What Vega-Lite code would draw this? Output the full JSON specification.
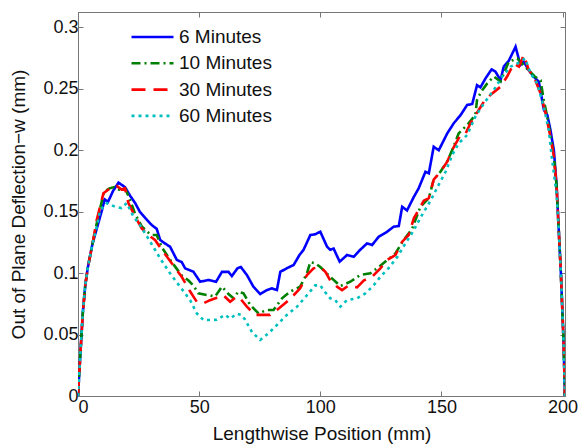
{
  "$schema": "https://vega.github.io/schema/vega-lite/v6.json",
  "width": 487,
  "height": 384,
  "autosize": "none",
  "padding": {"left": 78, "top": 12, "right": 15, "bottom": 50},
  "background": "white",
  "config": {
    "view": {"stroke": "#777777", "strokeWidth": 1},
    "font": "Liberation Sans",
    "axis": {"labelFont": "Liberation Sans", "titleFont": "Liberation Sans", "labelColor": "#111111", "titleColor": "#111111", "labelFontSize": 18, "titleFontSize": 19, "titleFontWeight": "normal", "grid": false, "domainColor": "#777777", "tickColor": "#777777", "tickSize": -5}
  },
  "datasets": {
    "curves": [
      {"series":"6 Minutes","x":0,"y":0},{"series":"6 Minutes","x":1,"y":0.035},{"series":"6 Minutes","x":2,"y":0.068},{"series":"6 Minutes","x":3,"y":0.09},{"series":"6 Minutes","x":4,"y":0.104},{"series":"6 Minutes","x":6,"y":0.124},{"series":"6 Minutes","x":8,"y":0.138},{"series":"6 Minutes","x":10,"y":0.152},{"series":"6 Minutes","x":11,"y":0.16},{"series":"6 Minutes","x":12.4,"y":0.158},{"series":"6 Minutes","x":14.5,"y":0.167},{"series":"6 Minutes","x":16.7,"y":0.1736},{"series":"6 Minutes","x":19.4,"y":0.17},{"series":"6 Minutes","x":21.5,"y":0.163},{"series":"6 Minutes","x":23.6,"y":0.157},{"series":"6 Minutes","x":25.5,"y":0.15},{"series":"6 Minutes","x":27.7,"y":0.145},{"series":"6 Minutes","x":30.5,"y":0.139},{"series":"6 Minutes","x":32.5,"y":0.136},{"series":"6 Minutes","x":33.9,"y":0.127},{"series":"6 Minutes","x":36,"y":0.124},{"series":"6 Minutes","x":38,"y":0.1215},{"series":"6 Minutes","x":40.8,"y":0.1107},{"series":"6 Minutes","x":42.8,"y":0.109},{"series":"6 Minutes","x":44.2,"y":0.1039},{"series":"6 Minutes","x":47.6,"y":0.1012},{"series":"6 Minutes","x":50.4,"y":0.093},{"series":"6 Minutes","x":53.8,"y":0.0944},{"series":"6 Minutes","x":57,"y":0.093},{"series":"6 Minutes","x":59.4,"y":0.101},{"series":"6 Minutes","x":62.1,"y":0.101},{"series":"6 Minutes","x":63.5,"y":0.0976},{"series":"6 Minutes","x":65.8,"y":0.1039},{"series":"6 Minutes","x":67.2,"y":0.105},{"series":"6 Minutes","x":69.7,"y":0.0985},{"series":"6 Minutes","x":72.4,"y":0.0889},{"series":"6 Minutes","x":75.2,"y":0.083},{"series":"6 Minutes","x":78,"y":0.0862},{"series":"6 Minutes","x":80,"y":0.0876},{"series":"6 Minutes","x":82.1,"y":0.0862},{"series":"6 Minutes","x":83.5,"y":0.101},{"series":"6 Minutes","x":86.2,"y":0.104},{"series":"6 Minutes","x":89,"y":0.1066},{"series":"6 Minutes","x":91.4,"y":0.1147},{"series":"6 Minutes","x":93.1,"y":0.119},{"series":"6 Minutes","x":95.9,"y":0.131},{"series":"6 Minutes","x":97.9,"y":0.1316},{"series":"6 Minutes","x":100,"y":0.1337},{"series":"6 Minutes","x":102.8,"y":0.1215},{"series":"6 Minutes","x":104.1,"y":0.119},{"series":"6 Minutes","x":105.5,"y":0.12},{"series":"6 Minutes","x":108,"y":0.1093},{"series":"6 Minutes","x":111,"y":0.1147},{"series":"6 Minutes","x":113.8,"y":0.1133},{"series":"6 Minutes","x":116.5,"y":0.119},{"series":"6 Minutes","x":119.3,"y":0.1242},{"series":"6 Minutes","x":121.4,"y":0.1229},{"series":"6 Minutes","x":124.1,"y":0.1296},{"series":"6 Minutes","x":127.6,"y":0.1337},{"series":"6 Minutes","x":130.3,"y":0.1378},{"series":"6 Minutes","x":132.4,"y":0.1383},{"series":"6 Minutes","x":133.8,"y":0.154},{"series":"6 Minutes","x":135.8,"y":0.151},{"series":"6 Minutes","x":138.6,"y":0.162},{"series":"6 Minutes","x":140.6,"y":0.169},{"series":"6 Minutes","x":143.4,"y":0.1825},{"series":"6 Minutes","x":144.8,"y":0.1812},{"series":"6 Minutes","x":146.8,"y":0.2028},{"series":"6 Minutes","x":148.9,"y":0.2},{"series":"6 Minutes","x":152.4,"y":0.2137},{"series":"6 Minutes","x":155.1,"y":0.222},{"series":"6 Minutes","x":157.9,"y":0.2286},{"series":"6 Minutes","x":160.6,"y":0.2368},{"series":"6 Minutes","x":162.7,"y":0.2376},{"series":"6 Minutes","x":164.7,"y":0.253},{"series":"6 Minutes","x":166.1,"y":0.2512},{"series":"6 Minutes","x":168.2,"y":0.2585},{"series":"6 Minutes","x":170.7,"y":0.2658},{"series":"6 Minutes","x":172.3,"y":0.2639},{"series":"6 Minutes","x":174.4,"y":0.2571},{"series":"6 Minutes","x":175.7,"y":0.268},{"series":"6 Minutes","x":177.8,"y":0.2728},{"series":"6 Minutes","x":180.6,"y":0.2842},{"series":"6 Minutes","x":182.6,"y":0.2693},{"series":"6 Minutes","x":184,"y":0.272},{"series":"6 Minutes","x":186.1,"y":0.265},{"series":"6 Minutes","x":188.1,"y":0.2598},{"series":"6 Minutes","x":190.2,"y":0.2557},{"series":"6 Minutes","x":192.3,"y":0.2327},{"series":"6 Minutes","x":193.7,"y":0.2286},{"series":"6 Minutes","x":195,"y":0.2164},{"series":"6 Minutes","x":196.4,"y":0.2},{"series":"6 Minutes","x":197.5,"y":0.172},{"series":"6 Minutes","x":198.5,"y":0.132},{"series":"6 Minutes","x":199.3,"y":0.1},{"series":"6 Minutes","x":200.3,"y":0.05},{"series":"6 Minutes","x":201,"y":0},

      {"series":"10 Minutes","x":0,"y":0},{"series":"10 Minutes","x":1,"y":0.035},{"series":"10 Minutes","x":2,"y":0.068},{"series":"10 Minutes","x":3,"y":0.09},{"series":"10 Minutes","x":4,"y":0.104},{"series":"10 Minutes","x":6,"y":0.124},{"series":"10 Minutes","x":8,"y":0.143},{"series":"10 Minutes","x":10.7,"y":0.166},{"series":"10 Minutes","x":13,"y":0.169},{"series":"10 Minutes","x":15,"y":0.17},{"series":"10 Minutes","x":17,"y":0.168},{"series":"10 Minutes","x":19.4,"y":0.169},{"series":"10 Minutes","x":21,"y":0.162},{"series":"10 Minutes","x":23.6,"y":0.148},{"series":"10 Minutes","x":26.3,"y":0.138},{"series":"10 Minutes","x":29,"y":0.133},{"series":"10 Minutes","x":30.5,"y":0.131},{"series":"10 Minutes","x":32.5,"y":0.131},{"series":"10 Minutes","x":34.6,"y":0.121},{"series":"10 Minutes","x":38.7,"y":0.109},{"series":"10 Minutes","x":42.8,"y":0.098},{"series":"10 Minutes","x":45.6,"y":0.094},{"series":"10 Minutes","x":47.6,"y":0.09},{"series":"10 Minutes","x":49.7,"y":0.0835},{"series":"10 Minutes","x":53.8,"y":0.082},{"series":"10 Minutes","x":56.6,"y":0.081},{"series":"10 Minutes","x":59.4,"y":0.089},{"series":"10 Minutes","x":62.1,"y":0.083},{"series":"10 Minutes","x":64.2,"y":0.0795},{"series":"10 Minutes","x":66.2,"y":0.085},{"series":"10 Minutes","x":68.3,"y":0.0835},{"series":"10 Minutes","x":71.1,"y":0.074},{"series":"10 Minutes","x":74.5,"y":0.0673},{"series":"10 Minutes","x":78,"y":0.07},{"series":"10 Minutes","x":80.7,"y":0.07},{"series":"10 Minutes","x":84.2,"y":0.0795},{"series":"10 Minutes","x":87.6,"y":0.085},{"series":"10 Minutes","x":91.7,"y":0.089},{"series":"10 Minutes","x":94.5,"y":0.0998},{"series":"10 Minutes","x":95.9,"y":0.109},{"series":"10 Minutes","x":97.9,"y":0.108},{"series":"10 Minutes","x":100,"y":0.105},{"series":"10 Minutes","x":104.1,"y":0.097},{"series":"10 Minutes","x":108.3,"y":0.0895},{"series":"10 Minutes","x":112.4,"y":0.093},{"series":"10 Minutes","x":116.5,"y":0.0985},{"series":"10 Minutes","x":120.7,"y":0.0998},{"series":"10 Minutes","x":124.1,"y":0.105},{"series":"10 Minutes","x":127.6,"y":0.1107},{"series":"10 Minutes","x":131,"y":0.116},{"series":"10 Minutes","x":134.4,"y":0.127},{"series":"10 Minutes","x":137.9,"y":0.136},{"series":"10 Minutes","x":141.3,"y":0.154},{"series":"10 Minutes","x":144.8,"y":0.161},{"series":"10 Minutes","x":146.8,"y":0.176},{"series":"10 Minutes","x":149.6,"y":0.1825},{"series":"10 Minutes","x":152.4,"y":0.191},{"series":"10 Minutes","x":154.4,"y":0.2},{"series":"10 Minutes","x":157.1,"y":0.2137},{"series":"10 Minutes","x":160.6,"y":0.2205},{"series":"10 Minutes","x":164,"y":0.2286},{"series":"10 Minutes","x":164.7,"y":0.241},{"series":"10 Minutes","x":166.5,"y":0.248},{"series":"10 Minutes","x":168.9,"y":0.2544},{"series":"10 Minutes","x":171.6,"y":0.26},{"series":"10 Minutes","x":174.4,"y":0.256},{"series":"10 Minutes","x":177.8,"y":0.272},{"series":"10 Minutes","x":181.3,"y":0.2747},{"series":"10 Minutes","x":183.3,"y":0.2706},{"series":"10 Minutes","x":186,"y":0.265},{"series":"10 Minutes","x":188.5,"y":0.26},{"series":"10 Minutes","x":190.9,"y":0.257},{"series":"10 Minutes","x":192.3,"y":0.24},{"series":"10 Minutes","x":193.7,"y":0.227},{"series":"10 Minutes","x":195,"y":0.212},{"series":"10 Minutes","x":196.4,"y":0.195},{"series":"10 Minutes","x":197.5,"y":0.172},{"series":"10 Minutes","x":198.5,"y":0.132},{"series":"10 Minutes","x":199.3,"y":0.1},{"series":"10 Minutes","x":200.3,"y":0.05},{"series":"10 Minutes","x":201,"y":0},

      {"series":"30 Minutes","x":0,"y":0},{"series":"30 Minutes","x":1,"y":0.035},{"series":"30 Minutes","x":2,"y":0.068},{"series":"30 Minutes","x":3,"y":0.09},{"series":"30 Minutes","x":4,"y":0.104},{"series":"30 Minutes","x":6,"y":0.124},{"series":"30 Minutes","x":7.7,"y":0.143},{"series":"30 Minutes","x":10.5,"y":0.165},{"series":"30 Minutes","x":13.9,"y":0.17},{"series":"30 Minutes","x":16,"y":0.171},{"series":"30 Minutes","x":18,"y":0.168},{"series":"30 Minutes","x":19.4,"y":0.169},{"series":"30 Minutes","x":20.8,"y":0.157},{"series":"30 Minutes","x":22.9,"y":0.1487},{"series":"30 Minutes","x":26.3,"y":0.1364},{"series":"30 Minutes","x":29,"y":0.131},{"series":"30 Minutes","x":31.8,"y":0.127},{"series":"30 Minutes","x":34.6,"y":0.119},{"series":"30 Minutes","x":38.7,"y":0.108},{"series":"30 Minutes","x":42.8,"y":0.097},{"series":"30 Minutes","x":46.3,"y":0.085},{"series":"30 Minutes","x":49,"y":0.0767},{"series":"30 Minutes","x":51.8,"y":0.0754},{"series":"30 Minutes","x":54.5,"y":0.078},{"series":"30 Minutes","x":57.3,"y":0.08},{"series":"30 Minutes","x":60,"y":0.082},{"series":"30 Minutes","x":62.8,"y":0.0767},{"series":"30 Minutes","x":65.6,"y":0.081},{"series":"30 Minutes","x":66.9,"y":0.0795},{"series":"30 Minutes","x":69.7,"y":0.0727},{"series":"30 Minutes","x":73.1,"y":0.066},{"series":"30 Minutes","x":75.9,"y":0.066},{"series":"30 Minutes","x":79.3,"y":0.066},{"series":"30 Minutes","x":82.1,"y":0.07},{"series":"30 Minutes","x":86.2,"y":0.0767},{"series":"30 Minutes","x":89,"y":0.082},{"series":"30 Minutes","x":91.7,"y":0.0876},{"series":"30 Minutes","x":94.5,"y":0.0985},{"series":"30 Minutes","x":97.2,"y":0.1039},{"series":"30 Minutes","x":100,"y":0.105},{"series":"30 Minutes","x":102.1,"y":0.101},{"series":"30 Minutes","x":104.1,"y":0.094},{"series":"30 Minutes","x":106.9,"y":0.089},{"series":"30 Minutes","x":109,"y":0.0862},{"series":"30 Minutes","x":111.7,"y":0.09},{"series":"30 Minutes","x":115.2,"y":0.0884},{"series":"30 Minutes","x":117.9,"y":0.094},{"series":"30 Minutes","x":121.4,"y":0.097},{"series":"30 Minutes","x":124.8,"y":0.1039},{"series":"30 Minutes","x":127.6,"y":0.1107},{"series":"30 Minutes","x":131,"y":0.1147},{"series":"30 Minutes","x":133.8,"y":0.1256},{"series":"30 Minutes","x":136.5,"y":0.131},{"series":"30 Minutes","x":138.6,"y":0.1446},{"series":"30 Minutes","x":142.7,"y":0.159},{"series":"30 Minutes","x":144.8,"y":0.161},{"series":"30 Minutes","x":146.8,"y":0.176},{"series":"30 Minutes","x":149.6,"y":0.1825},{"series":"30 Minutes","x":152.4,"y":0.1907},{"series":"30 Minutes","x":154.4,"y":0.2},{"series":"30 Minutes","x":157.9,"y":0.2124},{"series":"30 Minutes","x":160,"y":0.2137},{"series":"30 Minutes","x":162,"y":0.222},{"series":"30 Minutes","x":165.4,"y":0.2327},{"series":"30 Minutes","x":167.5,"y":0.2395},{"series":"30 Minutes","x":170.2,"y":0.245},{"series":"30 Minutes","x":174.4,"y":0.2517},{"series":"30 Minutes","x":177.1,"y":0.26},{"series":"30 Minutes","x":179.9,"y":0.2706},{"series":"30 Minutes","x":182,"y":0.268},{"series":"30 Minutes","x":184,"y":0.2775},{"series":"30 Minutes","x":186.1,"y":0.265},{"series":"30 Minutes","x":188.1,"y":0.26},{"series":"30 Minutes","x":190.9,"y":0.2463},{"series":"30 Minutes","x":193,"y":0.23},{"series":"30 Minutes","x":195,"y":0.211},{"series":"30 Minutes","x":196.4,"y":0.195},{"series":"30 Minutes","x":197.5,"y":0.172},{"series":"30 Minutes","x":198.5,"y":0.132},{"series":"30 Minutes","x":199.3,"y":0.1},{"series":"30 Minutes","x":200.3,"y":0.05},{"series":"30 Minutes","x":201,"y":0},

      {"series":"60 Minutes","x":0,"y":0},{"series":"60 Minutes","x":1,"y":0.035},{"series":"60 Minutes","x":2,"y":0.068},{"series":"60 Minutes","x":3,"y":0.09},{"series":"60 Minutes","x":4,"y":0.104},{"series":"60 Minutes","x":6,"y":0.124},{"series":"60 Minutes","x":8,"y":0.14},{"series":"60 Minutes","x":9.1,"y":0.151},{"series":"60 Minutes","x":11.9,"y":0.157},{"series":"60 Minutes","x":15.3,"y":0.154},{"series":"60 Minutes","x":18,"y":0.153},{"series":"60 Minutes","x":20.1,"y":0.157},{"series":"60 Minutes","x":22.9,"y":0.146},{"series":"60 Minutes","x":25.6,"y":0.139},{"series":"60 Minutes","x":29.8,"y":0.1256},{"series":"60 Minutes","x":33.9,"y":0.112},{"series":"60 Minutes","x":38,"y":0.0998},{"series":"60 Minutes","x":42.1,"y":0.089},{"series":"60 Minutes","x":46.3,"y":0.078},{"series":"60 Minutes","x":49,"y":0.0673},{"series":"60 Minutes","x":51.8,"y":0.0618},{"series":"60 Minutes","x":54.5,"y":0.0618},{"series":"60 Minutes","x":57.3,"y":0.062},{"series":"60 Minutes","x":60.7,"y":0.066},{"series":"60 Minutes","x":62.8,"y":0.063},{"series":"60 Minutes","x":65.6,"y":0.067},{"series":"60 Minutes","x":67.5,"y":0.066},{"series":"60 Minutes","x":69,"y":0.062},{"series":"60 Minutes","x":71.8,"y":0.052},{"series":"60 Minutes","x":75.2,"y":0.0456},{"series":"60 Minutes","x":78.6,"y":0.051},{"series":"60 Minutes","x":82.1,"y":0.0578},{"series":"60 Minutes","x":86.2,"y":0.066},{"series":"60 Minutes","x":90.4,"y":0.0727},{"series":"60 Minutes","x":94.5,"y":0.082},{"series":"60 Minutes","x":97.9,"y":0.09},{"series":"60 Minutes","x":100,"y":0.09},{"series":"60 Minutes","x":101.4,"y":0.086},{"series":"60 Minutes","x":104.1,"y":0.0795},{"series":"60 Minutes","x":106.2,"y":0.078},{"series":"60 Minutes","x":108.3,"y":0.0727},{"series":"60 Minutes","x":111,"y":0.078},{"series":"60 Minutes","x":115.2,"y":0.0795},{"series":"60 Minutes","x":118.6,"y":0.0835},{"series":"60 Minutes","x":122,"y":0.09},{"series":"60 Minutes","x":124.8,"y":0.097},{"series":"60 Minutes","x":128.2,"y":0.104},{"series":"60 Minutes","x":131.7,"y":0.113},{"series":"60 Minutes","x":135.1,"y":0.124},{"series":"60 Minutes","x":138.6,"y":0.135},{"series":"60 Minutes","x":141.3,"y":0.145},{"series":"60 Minutes","x":145.5,"y":0.159},{"series":"60 Minutes","x":148.9,"y":0.172},{"series":"60 Minutes","x":151.7,"y":0.1825},{"series":"60 Minutes","x":154.4,"y":0.196},{"series":"60 Minutes","x":157.1,"y":0.2056},{"series":"60 Minutes","x":160.6,"y":0.2124},{"series":"60 Minutes","x":164,"y":0.2273},{"series":"60 Minutes","x":167.5,"y":0.238},{"series":"60 Minutes","x":171.6,"y":0.249},{"series":"60 Minutes","x":175.1,"y":0.26},{"series":"60 Minutes","x":178.5,"y":0.268},{"series":"60 Minutes","x":181.3,"y":0.2706},{"series":"60 Minutes","x":184.5,"y":0.2747},{"series":"60 Minutes","x":186.8,"y":0.2626},{"series":"60 Minutes","x":189.5,"y":0.2544},{"series":"60 Minutes","x":192.3,"y":0.235},{"series":"60 Minutes","x":194.3,"y":0.2164},{"series":"60 Minutes","x":195.7,"y":0.192},{"series":"60 Minutes","x":197.5,"y":0.165},{"series":"60 Minutes","x":198.5,"y":0.132},{"series":"60 Minutes","x":199.3,"y":0.1},{"series":"60 Minutes","x":200.3,"y":0.05},{"series":"60 Minutes","x":201,"y":0}
    ]
  },
  "data": {"name": "curves"},
  "layer": [
    {
      "mark": {"type": "line", "strokeWidth": 2.6, "clip": true},
      "encoding": {
        "x": {"field": "x", "type": "quantitative", "scale": {"domain": [0, 201], "nice": false},
              "axis": {"orient": "bottom", "values": [0, 50, 100, 150, 200], "format": "d", "title": "Lengthwise Position (mm)", "labelPadding": 7, "titlePadding": 8}},
        "y": {"field": "y", "type": "quantitative", "scale": {"domain": [0, 0.3125], "nice": false},
              "axis": {"orient": "left", "values": [0, 0.05, 0.1, 0.15, 0.2, 0.25, 0.3], "format": "~g", "title": "Out of Plane Deflection−w (mm)", "labelPadding": 5, "titlePadding": 14}},
        "color": {"field": "series", "type": "nominal",
                  "scale": {"domain": ["6 Minutes", "10 Minutes", "30 Minutes", "60 Minutes"], "range": ["#0000ff", "#008000", "#ff0000", "#00bfbf"]},
                  "legend": {"orient": "none", "legendX": 52, "legendY": 15, "title": null, "symbolType": "stroke", "symbolSize": 1764, "symbolStrokeWidth": 2.6, "clipHeight": 20, "rowPadding": 6.3, "labelFontSize": 19, "labelFont": "Liberation Sans", "labelColor": "#111111", "labelOffset": 4, "padding": 0}},
        "strokeDash": {"field": "series", "type": "nominal",
                  "scale": {"domain": ["6 Minutes", "10 Minutes", "30 Minutes", "60 Minutes"], "range": [[1, 0], [9, 4, 2, 4], [14, 8], [3, 4]]},
                  "legend": {"orient": "none", "legendX": 52, "legendY": 15, "title": null, "symbolType": "stroke", "symbolSize": 1764, "symbolStrokeWidth": 2.6, "clipHeight": 20, "rowPadding": 6.3, "labelFontSize": 19, "labelFont": "Liberation Sans", "labelColor": "#111111", "labelOffset": 4, "padding": 0}}
      }
    },
    {
      "mark": {"type": "line", "opacity": 0},
      "encoding": {
        "x": {"field": "x", "type": "quantitative", "axis": {"orient": "top", "values": [0, 50, 100, 150, 200], "labels": false, "title": null}},
        "y": {"field": "y", "type": "quantitative", "axis": {"orient": "right", "values": [0, 0.05, 0.1, 0.15, 0.2, 0.25, 0.3], "labels": false, "title": null}},
        "detail": {"field": "series"}
      }
    }
  ],
  "resolve": {"axis": {"x": "independent", "y": "independent"}}
}
